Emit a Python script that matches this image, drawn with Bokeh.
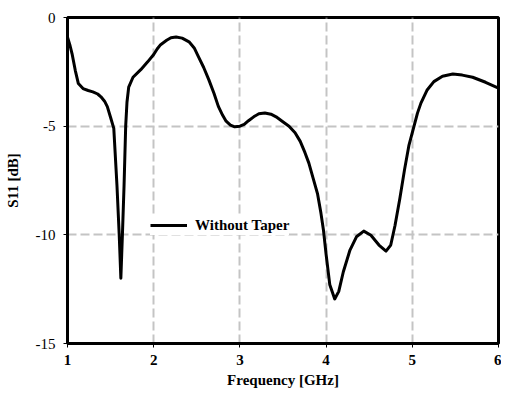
from bokeh.plotting import figure
from bokeh.models import Legend, LegendItem, FixedTicker, Range1d
from bokeh.embed import file_html
from bokeh.resources import INLINE

# Data
freq_ghz = [1.00, 1.03, 1.053, 1.09, 1.126, 1.18, 1.24, 1.294, 1.35, 1.388, 1.43, 1.462,
            1.50, 1.537, 1.574, 1.60, 1.619, 1.637, 1.656, 1.675, 1.69, 1.71, 1.76, 1.85,
            1.93, 2.00, 2.04, 2.08, 2.15, 2.20, 2.26, 2.33, 2.41, 2.47, 2.52, 2.58, 2.64,
            2.70, 2.75, 2.80, 2.84, 2.89, 2.94, 3.00, 3.05, 3.10, 3.16, 3.22, 3.29, 3.36,
            3.42, 3.49, 3.57, 3.64, 3.70, 3.755, 3.80, 3.85, 3.90, 3.94, 3.97, 4.00, 4.043,
            4.10, 4.147, 4.20, 4.277, 4.352, 4.437, 4.52, 4.613, 4.695, 4.75, 4.80, 4.855,
            4.91, 4.96, 5.02, 5.06, 5.10, 5.17, 5.25, 5.35, 5.47, 5.58, 5.70, 5.85, 6.00]
s11_db = [-0.90, -1.30, -1.67, -2.43, -3.04, -3.27, -3.36, -3.42, -3.52, -3.65, -3.85, -4.10,
          -4.60, -5.10, -7.74, -10.0, -12.0, -10.0, -7.74, -5.00, -3.90, -3.20, -2.75, -2.40,
          -2.04, -1.70, -1.45, -1.25, -1.05, -0.93, -0.90, -0.95, -1.12, -1.40, -1.81, -2.30, -2.87,
          -3.50, -4.09, -4.50, -4.77, -4.95, -5.03, -5.00, -4.92, -4.75, -4.57, -4.43, -4.39, -4.45,
          -4.57, -4.77, -5.00, -5.30, -5.70, -6.22, -6.70, -7.40, -8.10, -9.00, -9.80, -10.90, -12.30,
          -12.95, -12.60, -11.70, -10.70, -10.09, -9.83, -10.02, -10.47, -10.75, -10.47, -9.56, -8.34,
          -7.00, -5.90, -5.00, -4.40, -3.94, -3.35, -2.95, -2.70, -2.60, -2.65, -2.75, -2.98, -3.25]

x_ticks = [1, 2, 3, 4, 5, 6]
y_ticks = [0, -5, -10, -15]
y_tick_labels = ["0", "-5", "-10", "-15"]
series_name = "Without Taper"

SERIF = "Liberation Serif"

p = figure(width=501, height=391, output_backend="svg", toolbar_location=None,
           x_range=Range1d(1, 6), y_range=Range1d(-15, 0),
           min_border_left=67, min_border_right=3, min_border_top=17, min_border_bottom=48)

p.outline_line_color = "black"
p.outline_line_width = 3
p.background_fill_color = "white"
p.border_fill_color = "white"

r = p.line(freq_ghz, s11_db, line_color="black", line_width=3, line_join="round")

for ax in (p.xaxis[0], p.yaxis[0]):
    ax.axis_line_color = "black"
    ax.axis_line_width = 3
    ax.major_tick_line_color = "black"
    ax.major_tick_line_width = 1
    ax.major_tick_out = 4
    ax.major_tick_in = 0
    ax.minor_tick_line_color = None
    ax.major_label_text_font = SERIF
    ax.major_label_text_font_size = "15px"
    ax.major_label_text_color = "black"
    ax.axis_label_text_font = SERIF
    ax.axis_label_text_font_size = "15px"
    ax.axis_label_text_font_style = "bold"
    ax.axis_label_text_color = "black"

p.xaxis.ticker = FixedTicker(ticks=x_ticks)
p.yaxis.ticker = FixedTicker(ticks=y_ticks)
p.yaxis.major_label_overrides = {t: lab for t, lab in zip(y_ticks, y_tick_labels)}
p.xaxis.major_label_text_font_style = "bold"
p.yaxis.major_label_text_font_style = "normal"
p.xaxis.major_label_standoff = 7
p.yaxis.major_label_standoff = 8
p.xaxis.axis_label = "Frequency [GHz]"
p.yaxis.axis_label = "S11 [dB]"
p.xaxis.axis_label_standoff = 4
p.yaxis.axis_label_standoff = 12

for g in (p.xgrid[0], p.ygrid[0]):
    g.grid_line_color = "#c4c4c4"
    g.grid_line_width = 2
    g.grid_line_dash = "9 4"
p.xgrid.ticker = FixedTicker(ticks=x_ticks)
p.ygrid.ticker = FixedTicker(ticks=y_ticks)

legend = Legend(items=[LegendItem(label=series_name, renderers=[r])],
                location=(83, 108), padding=8, margin=0, spacing=0,
                glyph_width=37, glyph_height=20, label_standoff=8,
                border_line_color=None, background_fill_color="white",
                background_fill_alpha=1.0,
                label_text_font=SERIF, label_text_font_size="15px",
                label_text_font_style="bold", label_text_color="black")
p.add_layout(legend)

open("out.html", "w").write(file_html(p, INLINE))
